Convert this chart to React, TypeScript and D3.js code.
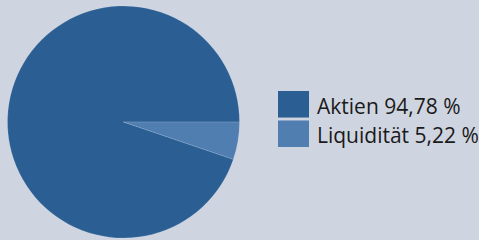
import React, { useRef, useEffect } from 'react';
import * as d3 from 'd3';

const categories = ['Aktien', 'Liquidität'];
const shares = [94.78, 5.22];
const shareLabels = ['94,78 %', '5,22 %'];
const colors = ['#2b5f94', '#507eb0'];

const width = 479;
const height = 240;

const App: React.FC = () => {
  const svgRef = useRef<SVGSVGElement | null>(null);

  useEffect(() => {
    if (!svgRef.current) return;
    const svg = d3.select(svgRef.current);
    svg.selectAll('*').remove();

    svg.append('rect')
       .attr('width', width)
       .attr('height', height)
       .attr('fill', '#cfd5e0');

    const data = categories.map((c, i) => ({ label: c, value: shares[i], text: shareLabels[i], color: colors[i] }));

    // counter-clockwise from 3 o'clock, so the small slice sits just below the horizontal
    const pie = d3.pie<typeof data[number]>()
                  .value(d => d.value)
                  .sort(null)
                  .startAngle(Math.PI / 2)
                  .endAngle(Math.PI / 2 - 2 * Math.PI);

    const arc = d3.arc<d3.PieArcDatum<typeof data[number]>>()
                  .innerRadius(0)
                  .outerRadius(116);

    const g = svg.append('g')
                 .attr('transform', 'translate(123.5, 122)');

    g.selectAll('path')
     .data(pie(data))
     .enter()
     .append('path')
     .attr('d', arc)
     .attr('fill', d => d.data.color)
     .attr('stroke', 'rgba(255,255,255,0.25)')
     .attr('stroke-width', 0.5);

    const legendY = d3.scaleBand()
                      .domain(categories)
                      .range([91, 147])
                      .paddingInner(0.1);

    const legend = svg.append('g');

    legend.selectAll('rect')
          .data(data)
          .enter()
          .append('rect')
          .attr('x', 278)
          .attr('y', d => legendY(d.label)!)
          .attr('width', 31)
          .attr('height', legendY.bandwidth())
          .attr('fill', d => d.color);

    legend.selectAll('text')
          .data(data)
          .enter()
          .append('text')
          .attr('x', 317)
          .attr('y', d => legendY(d.label)! + legendY.bandwidth() - 4)
          .attr('fill', '#1a1a1a')
          .attr('font-family', '"Open Sans", sans-serif')
          .attr('font-size', '21px')
          .text(d => `${d.label} ${d.text}`);
  }, []);

  return (
    <svg
      ref={svgRef}
      width={width}
      height={height}
      style={{ position: 'absolute', left: 0, top: 0, display: 'block' }}
    ></svg>
  );
};

export default App;
